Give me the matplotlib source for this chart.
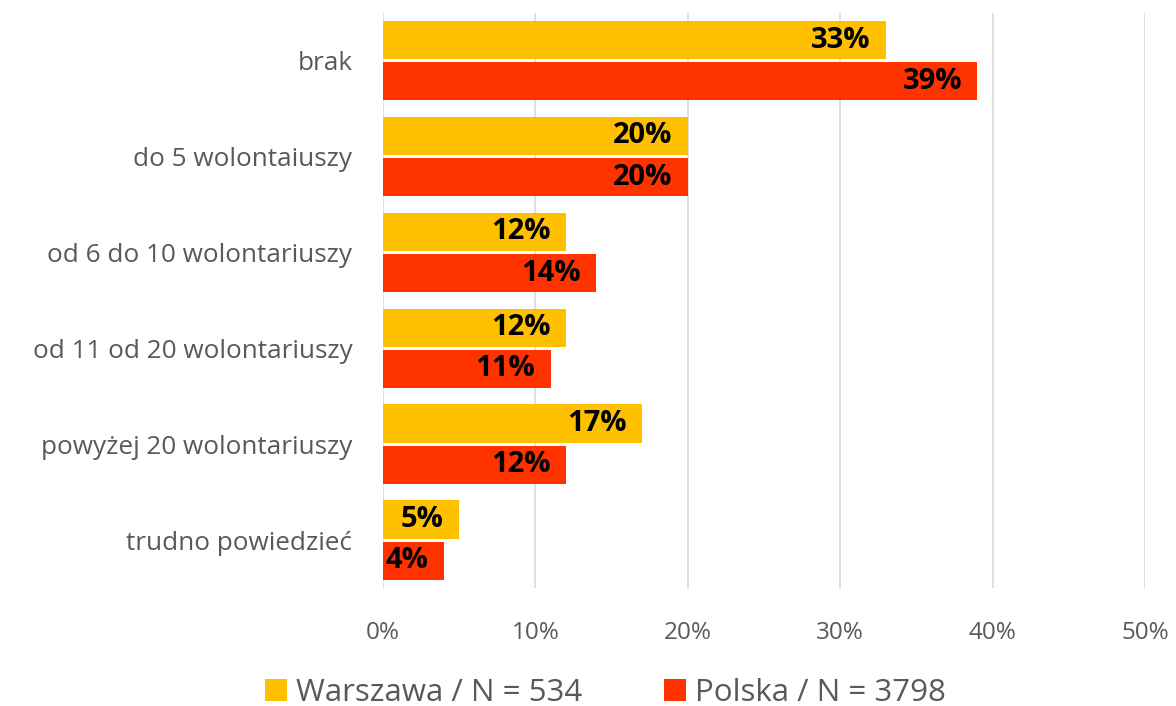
import matplotlib.pyplot as plt
import numpy as np

# dane
kategorie = ["brak", "do 5 wolontaiuszy", "od 6 do 10 wolontariuszy",
             "od 11 od 20 wolontariuszy", "powyżej 20 wolontariuszy", "trudno powiedzieć"]
warszawa = [33, 20, 12, 12, 17, 5]
polska = [39, 20, 14, 11, 12, 4]
serie = ["Warszawa / N = 534", "Polska / N = 3798"]

plt.rcParams['font.family'] = ['Open Sans', 'DejaVu Sans']

fig = plt.figure(figsize=(11.76, 7.06), dpi=100)
ax = fig.add_axes([0.3257, 0.167, 0.6479, 0.8150])

y = np.arange(len(kategorie))
h = 0.40
b1 = ax.barh(y - h / 2 - 0.015, warszawa, height=h, color="#FFC000", label=serie[0])
b2 = ax.barh(y + h / 2 + 0.015, polska, height=h, color="#FF3300", label=serie[1])

for bars in (b1, b2):
    for rect in bars:
        v = rect.get_width()
        ax.text(v - 1.0, rect.get_y() + rect.get_height() / 2, f"{v:.0f}%",
                ha="right", va="center", fontsize=21, fontweight="bold", color="black")

ax.set_ylim(5.5, -0.5)
ax.set_xlim(0, 50)
ax.set_xticks(range(0, 51, 10))
ax.set_xticklabels([f"{t}%" for t in range(0, 51, 10)])
ax.set_yticks(y)
ax.set_yticklabels(kategorie)
ax.tick_params(axis="both", length=0, colors="#595959")
ax.tick_params(axis="y", pad=22, labelsize=18.8)
ax.tick_params(axis="x", pad=24, labelsize=17.5)
ax.grid(axis="x", color="#D9D9D9", linewidth=1.2)
ax.set_axisbelow(True)
for s in ax.spines.values():
    s.set_visible(False)

fig.legend(handles=[b1, b2], labels=serie, loc="lower center", ncol=2,
           bbox_to_anchor=(0.515, -0.042), frameon=False, fontsize=22.5,
           labelcolor="#595959", handlelength=0.7, handleheight=0.7,
           handletextpad=0.3, columnspacing=2.6)

fig.savefig("out.png", dpi=100)
